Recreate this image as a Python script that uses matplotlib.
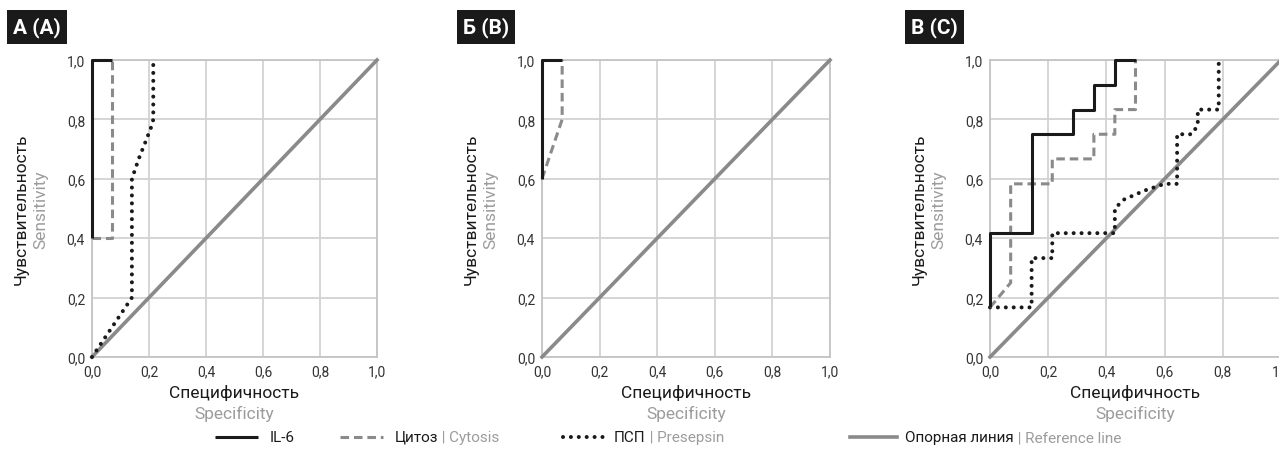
import matplotlib.pyplot as plt
from matplotlib.lines import Line2D

plt.rcParams['font.family'] = ['Roboto', 'DejaVu Sans']

W, H = 1279, 460

ticks = [0.0, 0.2, 0.4, 0.6, 0.8, 1.0]
tick_labels = ['0,0', '0,2', '0,4', '0,6', '0,8', '1,0']
panel_titles = ['А (A)', 'Б (B)', 'В (C)']

# reference (diagonal) line
ref_x = [0.0, 1.0]
ref_y = [0.0, 1.0]

# panel A
a_il6_x = [0.0, 0.0, 0.07]
a_il6_y = [0.4, 1.0, 1.0]
a_cyt_x = [0.0, 0.07, 0.07]
a_cyt_y = [0.4, 0.4, 1.0]
a_psp_x = [0.0, 0.14, 0.14, 0.165, 0.19, 0.21, 0.215, 0.215]
a_psp_y = [0.0, 0.2, 0.6, 0.67, 0.73, 0.78, 0.8, 1.0]

# panel B (no presepsin curve)
b_il6_x = [0.0, 0.0, 0.07]
b_il6_y = [0.6, 1.0, 1.0]
b_cyt_x = [0.0, 0.07, 0.07]
b_cyt_y = [0.6, 0.8, 1.0]

# panel C
c_il6_x = [0, 0, 0.143, 0.143, 0.286, 0.286, 0.357, 0.357, 0.429, 0.429, 0.5]
c_il6_y = [0.167, 0.417, 0.417, 0.75, 0.75, 0.833, 0.833, 0.917, 0.917, 1.0, 1.0]
c_cyt_x = [0, 0.071, 0.071, 0.214, 0.214, 0.357, 0.357, 0.429, 0.429, 0.5, 0.5]
c_cyt_y = [0.167, 0.25, 0.583, 0.583, 0.667, 0.667, 0.75, 0.75, 0.833, 0.833, 1.0]
c_psp_x = [0, 0.143, 0.143, 0.214, 0.214, 0.429, 0.429, 0.46, 0.53, 0.6, 0.643,
           0.643, 0.693, 0.714, 0.714, 0.786, 0.786]
c_psp_y = [0.167, 0.167, 0.333, 0.333, 0.417, 0.417, 0.5, 0.53, 0.56, 0.583, 0.583,
           0.75, 0.75, 0.78, 0.833, 0.833, 1.0]

panels = [
    (a_il6_x, a_il6_y, a_cyt_x, a_cyt_y, a_psp_x, a_psp_y),
    (b_il6_x, b_il6_y, b_cyt_x, b_cyt_y, None, None),
    (c_il6_x, c_il6_y, c_cyt_x, c_cyt_y, c_psp_x, c_psp_y),
]

DARK = '#1a1a1a'
GREY = '#8a8a8a'
LIGHT = '#9c9c9c'
GRID = '#d2d2d2'

il6_style = dict(color=DARK, lw=2.2, solid_capstyle='butt')
cyt_style = dict(color=GREY, lw=2.2, dashes=(2.8, 1.6))
psp_style = dict(color=DARK, lw=2.9, linestyle=(0, (0.01, 1.95)), dash_capstyle='round')
ref_style = dict(color=GREY, lw=2.6)

fig = plt.figure(figsize=(W / 100, H / 100), dpi=100)

# axes boxes in pixels: left, width
boxes = [(92, 285), (542, 288), (990, 291)]
top, bottom = 61, 358

axes = []
for (left, width), title, data in zip(boxes, panel_titles, panels):
    ax = fig.add_axes([left / W, 1 - bottom / H, width / W, (bottom - top) / H])
    axes.append(ax)
    il6_x, il6_y, cyt_x, cyt_y, psp_x, psp_y = data

    ax.plot(ref_x, ref_y, clip_on=False, zorder=3, **ref_style)
    if psp_x is not None:
        ax.plot(psp_x, psp_y, clip_on=False, zorder=4, **psp_style)
    ax.plot(cyt_x, cyt_y, clip_on=False, zorder=5, **cyt_style)
    ax.plot(il6_x, il6_y, clip_on=False, zorder=6, **il6_style)

    ax.set_xlim(0, 1)
    ax.set_ylim(0, 1)
    ax.set_xticks(ticks)
    ax.set_yticks(ticks)
    ax.set_xticklabels(tick_labels)
    ax.set_yticklabels(tick_labels)
    ax.tick_params(length=0, pad=5, labelsize=10, labelcolor='#333333')
    ax.grid(True, color=GRID, lw=1.3)
    ax.set_axisbelow(True)
    for s in ax.spines.values():
        s.set_color('#c4c4c4')
        s.set_linewidth(1.3)

    ax.annotate('Чувствительность', xy=(0, 0.5), xycoords='axes fraction',
                xytext=(-71, 0), textcoords='offset pixels', rotation=90,
                ha='center', va='center', fontsize=12.5, color=DARK)
    ax.annotate('Sensitivity', xy=(0, 0.5), xycoords='axes fraction',
                xytext=(-51, 0), textcoords='offset pixels', rotation=90,
                ha='center', va='center', fontsize=12.5, color=LIGHT)
    ax.annotate('Специфичность', xy=(0.5, 0), xycoords='axes fraction',
                xytext=(0, -35), textcoords='offset pixels',
                ha='center', va='center', fontsize=12.5, color=DARK)
    ax.annotate('Specificity', xy=(0.5, 0), xycoords='axes fraction',
                xytext=(0, -56), textcoords='offset pixels',
                ha='center', va='center', fontsize=12.5, color=LIGHT)

    ax.annotate(title, xy=(0, 1), xycoords='axes fraction',
                xytext=(-79, 33), textcoords='offset pixels',
                ha='left', va='center', fontsize=15, fontweight='bold', color='white',
                bbox=dict(boxstyle='square,pad=0.3', fc=DARK, ec='none'))

# legend along the bottom
leg_y = 1 - 438 / H
leg_keys = [(215, 258, il6_style), (340, 383, cyt_style),
            (563, 606, psp_style), (850, 897, ref_style)]
leg_main = ['IL-6', 'Цитоз', 'ПСП', 'Опорная линия']
leg_sub = ['', ' | Cytosis', ' | Presepsin', ' | Reference line']
leg_text_x = [270, 395, 614, 905]

for (x0, x1, st), main, sub, tx in zip(leg_keys, leg_main, leg_sub, leg_text_x):
    fig.add_artist(Line2D([x0 / W, x1 / W], [leg_y, leg_y], transform=fig.transFigure, **st))
    t = fig.text(tx / W, leg_y, main, ha='left', va='center', fontsize=11, color=DARK)
    if sub:
        axes[0].annotate(sub, xy=(1, 0.5), xycoords=t, ha='left', va='center',
                         fontsize=11, color=LIGHT, annotation_clip=False)

fig.savefig('out.png', dpi=100)
